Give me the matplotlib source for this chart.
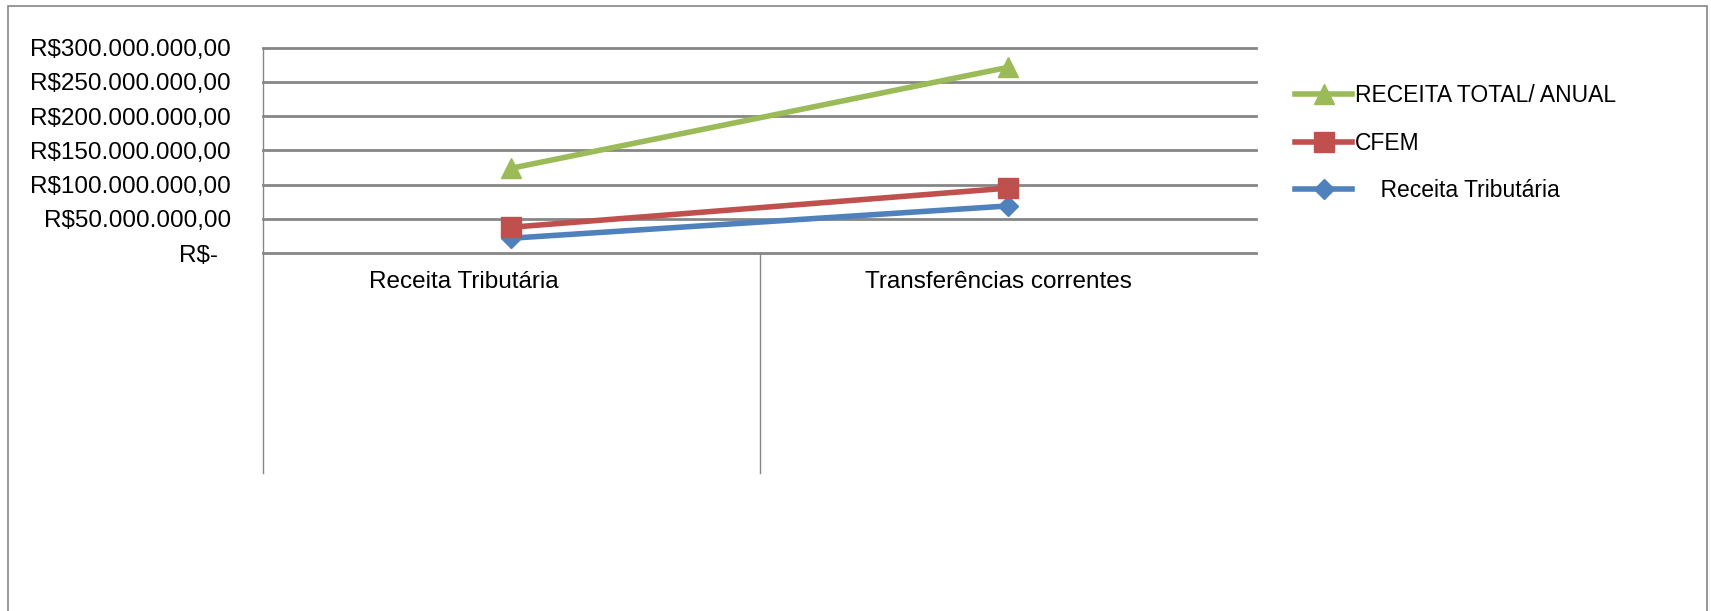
import matplotlib
matplotlib.use("Agg")
import matplotlib.pyplot as plt
from matplotlib.patches import Rectangle

plt.rcParams['font.family'] = ['Liberation Sans', 'DejaVu Sans']

categorias = ['Receita Tributária', 'Transferências correntes']
receita_tributaria = [22000000, 69000000]
cfem = [38000000, 95000000]
receita_total = [124000000, 271000000]
yticks = [0, 50000000, 100000000, 150000000, 200000000, 250000000, 300000000]
ytick_labels = ['R$-  ', 'R$50.000.000,00', 'R$100.000.000,00', 'R$150.000.000,00',
                'R$200.000.000,00', 'R$250.000.000,00', 'R$300.000.000,00']

azul = '#4F81BD'
vermelho = '#C0504D'
verde = '#9BBB59'
cinza = '#868686'
fs = 17.5
fs_leg = 16.5

fig = plt.figure(figsize=(17.11, 6.11), dpi=100)
# moldura do grafico
fig.patches.append(Rectangle((8/1711, -0.01), 1699/1711, 1 - 6/611 + 0.01, transform=fig.transFigure,
                             fill=False, edgecolor=cinza, linewidth=1.2))

ax = fig.add_axes([263/1711, 1 - 253.3/611, 993/1711, 205.8/611])
x = range(len(categorias))

ax.plot(x, receita_tributaria, color=azul, lw=4, marker='D', ms=10, label='    Receita Tributária', zorder=3)
ax.plot(x, cfem, color=vermelho, lw=4, marker='s', ms=14, label='CFEM', zorder=3)
ax.plot(x, receita_total, color=verde, lw=4, marker='^', ms=15, label='RECEITA TOTAL/ ANUAL', zorder=3)

ax.set_xlim(-0.5, 1.5)
ax.set_ylim(0, 300000000)
ax.set_yticks(yticks)
ax.set_yticklabels(ytick_labels, fontsize=fs)
ax.tick_params(axis='y', length=0, pad=23)
ax.set_xticks([])
for yv in yticks:
    ax.axhline(yv, color=cinza, lw=2, clip_on=False, zorder=1)
for s in ['top', 'right', 'bottom']:
    ax.spines[s].set_visible(False)
ax.spines['left'].set_color(cinza)
ax.spines['left'].set_linewidth(1)

# linhas verticais do eixo de categorias, descendo abaixo do grafico
for xv in [-0.5, 0.5]:
    ax.plot([xv, xv], [0, -220/205.8 * 300000000], color=cinza, lw=1, clip_on=False)
desloc = [-47, -9]  # px, posicao dos rotulos como no original
for i, c in enumerate(categorias):
    ax.annotate(c, (i, 0), xytext=(desloc[i] / 1.389, -29 / 1.389), textcoords='offset points',
                ha='center', va='center', fontsize=fs, annotation_clip=False)

h, l = ax.get_legend_handles_labels()
leg = fig.legend(h[::-1], l[::-1], loc='upper left', bbox_to_anchor=(1295/1711, 1 - 84/611),
                 frameon=False, fontsize=fs_leg, handlelength=2.5, handletextpad=0.1,
                 labelspacing=1.07, borderpad=0, borderaxespad=0)

fig.savefig('out.png', dpi=100)
